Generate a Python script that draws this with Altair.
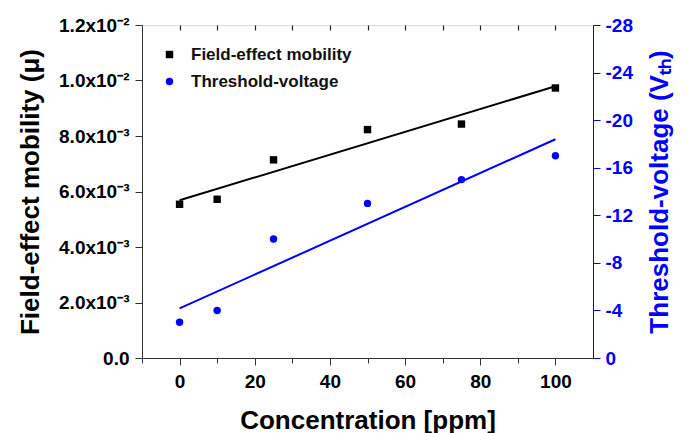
import altair as alt
import pandas as pd

# Data
concentration = [0, 10, 25, 50, 75, 100]
mobility = [0.00554, 0.00572, 0.00714, 0.00823, 0.00843, 0.00973]
threshold_voltage = [-3.0, -4.0, -10.0, -13.0, -15.0, -17.0]

series_names = ["Field-effect mobility", "Threshold-voltage"]
series_colors = ["black", "#0000ff"]
series_shapes = ["square", "circle"]

x_ticks = [-10, 0, 10, 20, 30, 40, 50, 60, 70, 80, 90, 100]
top_ticks = [0, 10, 20, 30, 40, 50, 60, 70, 80, 90, 100]
left_ticks = [i / 1000 for i in range(0, 13)]
right_ticks = [-i for i in range(0, 29, 2)]

df = pd.DataFrame({"conc": concentration, "mob": mobility, "vth": threshold_voltage})

FONT = "Liberation Sans"
LBL = 19
TTL = 26

x_scale = alt.Scale(domain=[-10, 110], nice=False, zero=False)

x_enc = alt.X(
    "conc:Q",
    scale=x_scale,
    axis=alt.Axis(
        values=x_ticks,
        title="Concentration [ppm]",
        labelExpr="(datum.value >= 0 && datum.value % 20 == 0) ? datum.value : ''",
        labelOverlap=False,
        tickSize={"condition": {"test": "datum.value % 20 == 0", "value": 7}, "value": 5},
        grid=False,
        domainColor="#333333",
        tickColor="#333333",
        labelColor="black",
        titleColor="black",
        labelFont=FONT, labelFontSize=LBL, labelFontWeight="bold",
        titleFont=FONT, titleFontSize=TTL, titleFontWeight="bold",
        labelPadding=7, titlePadding=16,
    ),
)

x_none = alt.X("conc:Q", scale=x_scale, axis=None)

x_top = alt.X(
    "conc:Q",
    scale=x_scale,
    axis=alt.Axis(
        orient="top", values=top_ticks, labels=False, title=None, domain=False,
        grid=False, ticks=True, tickSize=5, offset=-5, tickColor="#222222",
        tickWidth=1.2, tickOpacity=1, zindex=2,
    ),
)

color_scale = alt.Scale(domain=series_names, range=series_colors)
shape_scale = alt.Scale(domain=series_names, range=series_shapes)

legend = alt.Legend(
    title=None, orient="none", legendX=19, legendY=21,
    labelFont=FONT, labelFontSize=17, labelFontWeight="bold", labelColor="#111111",
    labelLimit=400,
    symbolSize=55, symbolStrokeWidth=0, rowPadding=9, labelOffset=13, padding=0,
)

y_left = alt.Y(
    "mob:Q",
    scale=alt.Scale(domain=[0, 0.012], nice=False),
    axis=alt.Axis(
        orient="left",
        values=left_ticks,
        title="Field-effect mobility (μ)",
        labelExpr="round(datum.value*1000) % 2 != 0 ? '' : (datum.value == 0 ? '0.0' : (datum.value > 0.0095 ? format(datum.value*100, '.1f') + 'x10⁻²' : format(datum.value*1000, '.1f') + 'x10⁻³'))",
        labelOverlap=False,
        tickSize={"condition": {"test": "round(datum.value*1000) % 2 == 0", "value": 7}, "value": 4},
        grid=False,
        domainColor="#333333", tickColor="#333333",
        labelColor="black", titleColor="black",
        labelFont=FONT, labelFontSize=LBL, labelFontWeight="bold",
        titleFont=FONT, titleFontSize=TTL, titleFontWeight="bold",
        labelPadding=6, titlePadding=15,
    ),
)

y_right = alt.Y(
    "vth:Q",
    scale=alt.Scale(domain=[0, -28], nice=False, zero=False),
    axis=alt.Axis(
        orient="right",
        values=right_ticks,
        title="Threshold-voltage (Vₜₕ)",
        titleAngle=270, titleBaseline="top",
        labelExpr="abs(round(datum.value)) % 4 != 0 ? '' : (datum.value == 0 ? '0' : '-' + abs(datum.value))",
        labelOverlap=False,
        tickSize={"condition": {"test": "abs(round(datum.value)) % 4 == 0", "value": 7}, "value": 4},
        grid=False,
        domainColor="#0000ff", tickColor="#0000ff",
        labelColor="#0000ff", titleColor="#0000ff",
        labelFont=FONT, labelFontSize=LBL, labelFontWeight="bold",
        titleFont=FONT, titleFontSize=TTL, titleFontWeight="bold",
        labelPadding=5, titlePadding=14,
    ),
)

base = alt.Chart(df)

mob_points = base.transform_calculate(series="'Field-effect mobility'").mark_point(
    filled=True, opacity=1
).encode(
    x=x_enc, y=y_left,
    color=alt.Color("series:N", scale=color_scale, legend=legend),
    shape=alt.Shape("series:N", scale=shape_scale, legend=legend),
    size=alt.value(55),
)
mob_line = base.transform_regression("conc", "mob").mark_line(color="black", strokeWidth=2).encode(
    x=alt.X("conc:Q", scale=x_scale), y=alt.Y("mob:Q")
)

vth_points = base.transform_calculate(series="'Threshold-voltage'").mark_point(
    filled=True, opacity=1
).encode(
    x=x_none, y=y_right,
    color=alt.Color("series:N", scale=color_scale, legend=legend),
    shape=alt.Shape("series:N", scale=shape_scale, legend=legend),
    size=alt.value(55),
)
vth_line = base.transform_regression("conc", "vth").mark_line(color="#0000ff", strokeWidth=2).encode(
    x=x_none, y=alt.Y("vth:Q")
)

top_layer = base.mark_point(opacity=0).encode(x=x_top, y=alt.Y("mob:Q", axis=None))

left_layer = alt.layer(mob_line, mob_points)
right_layer = alt.layer(vth_line, vth_points)

chart = (
    alt.layer(left_layer, right_layer, top_layer)
    .resolve_scale(x="independent", y="independent")
    .properties(width=451, height=333, padding={"left": 9, "top": 8, "right": 5, "bottom": 5})
    .configure_view(stroke="#333333", strokeWidth=1)
    .configure(background="white")
)

chart.save("out.html", embed_options={"renderer": "svg", "actions": False})
